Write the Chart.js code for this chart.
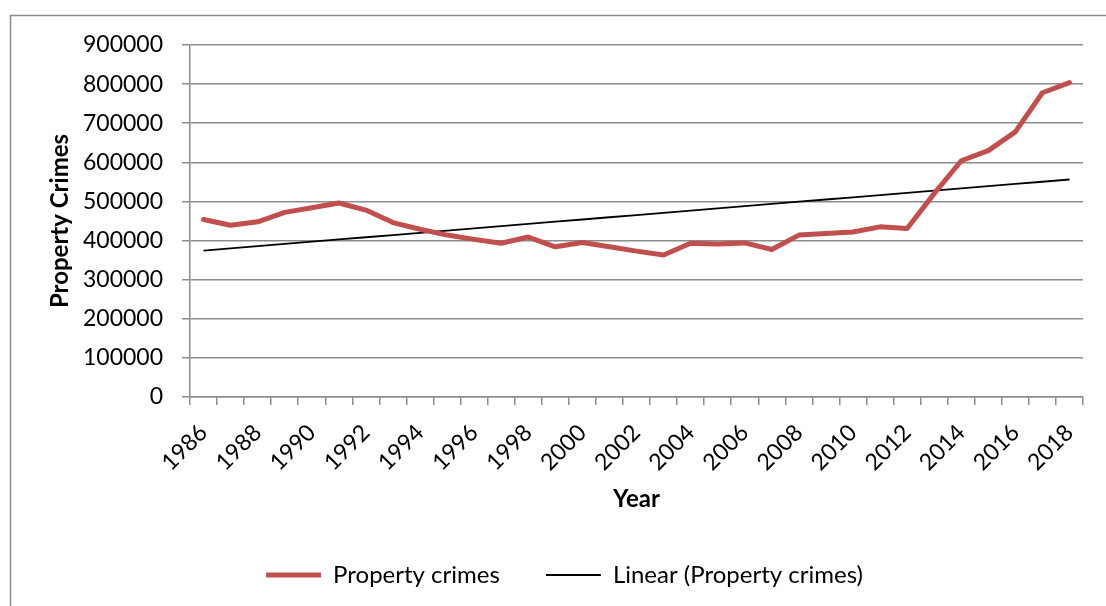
<!DOCTYPE html>
<html>
<head>
<meta charset="utf-8">
<script src="https://cdn.jsdelivr.net/npm/chart.js@4.4.1/dist/chart.umd.min.js"></script>
<style>
  html, body { margin: 0; padding: 0; background: #fff; }
  #wrap { position: relative; width: 1106px; height: 606px; }
</style>
</head>
<body>
<div id="wrap"><canvas id="crimeChart"></canvas></div>
<script>
const years = ['1986', '1987', '1988', '1989', '1990', '1991', '1992', '1993', '1994', '1995', '1996',
    '1997', '1998', '1999', '2000', '2001', '2002', '2003', '2004', '2005', '2006', '2007',
    '2008', '2009', '2010', '2011', '2012', '2013', '2014', '2015', '2016', '2017', '2018'];
const propertyCrimes = [454000, 439000, 448000, 472000, 484000, 496000, 478000, 446000, 429000, 414000, 403000,
    393000, 409000, 384000, 395000, 384000, 373000, 363000, 393000, 391000, 394000, 377000,
    414000, 418000, 422000, 435000, 431000, 520000, 604000, 630000, 678000, 778000, 804000];
const yTicks = [0, 100000, 200000, 300000, 400000, 500000, 600000, 700000, 800000, 900000];

// least-squares trend over the year index, like the spreadsheet "Linear" trendline
function linearTrend(values) {
    const n = values.length;
    const mx = (n - 1) / 2;
    const my = values.reduce((a, b) => a + b, 0) / n;
    let sxy = 0, sxx = 0;
    values.forEach((v, i) => { sxy += (i - mx) * (v - my); sxx += (i - mx) * (i - mx); });
    const slope = sxy / sxx;
    return values.map((v, i) => my + slope * (i - mx));
}

const GREY = '#8c8c8c';
const FONT = 'Lato, "Open Sans", sans-serif';

const framePlugin = {
    id: 'frame',
    beforeDraw(chart) {
        const c = chart.ctx;
        c.save();
        c.strokeStyle = GREY;
        c.lineWidth = 1.5;
        c.strokeRect(10.5, 15.5, 1200, 700);
        c.restore();
    }
};

const padLeft = 46;

new Chart(document.getElementById('crimeChart'), {
    type: 'line',
    data: {
        labels: years,
        datasets: [
            {
                label: 'Property crimes', data: propertyCrimes, borderColor: '#C0504D', backgroundColor: '#C0504D',
                borderWidth: 5, pointRadius: 0, tension: 0, borderCapStyle: 'round', borderJoinStyle: 'round'
            },
            {
                label: 'Linear (Property crimes)', data: linearTrend(propertyCrimes), borderColor: '#000',
                backgroundColor: '#000', borderWidth: 1.8, pointRadius: 0, tension: 0
            }
        ]
    },
    options: {
        responsive: true,
        maintainAspectRatio: false,
        animation: false,
        layout: { padding: { left: padLeft, right: 23, top: 45, bottom: 9 } },
        plugins: {
            tooltip: { enabled: false },
            legend: {
                position: 'bottom',
                labels: {
                    usePointStyle: true,
                    pointStyle: 'line',
                    pointStyleWidth: 55,
                    padding: 46,
                    color: '#000',
                    font: { family: FONT, size: 24 },
                    generateLabels(chart) {
                        return chart.data.datasets.map((ds, i) => ({
                            text: ds.label, fillStyle: ds.borderColor, strokeStyle: ds.borderColor,
                            lineWidth: ds.borderWidth, pointStyle: 'line', hidden: false, datasetIndex: i
                        }));
                    }
                }
            }
        },
        scales: {
            x: {
                offset: true,
                afterFit(scale) { scale.height = 120; },
                grid: { offset: true, drawOnChartArea: false, drawTicks: true, tickLength: 8, color: GREY, lineWidth: 1.5 },
                border: { color: GREY, width: 1.5 },
                ticks: {
                    autoSkip: false, maxRotation: 45, minRotation: 45, padding: 14, color: '#000',
                    font: { family: FONT, size: 23 },
                    callback(value, index) { return index % 2 === 0 ? years[index] : ''; }
                },
                title: {
                    display: true, text: 'Year', color: '#000',
                    font: { family: FONT, size: 24, weight: 'bold', lineHeight: 1 },
                    padding: { top: 0, bottom: 6 }
                }
            },
            y: {
                min: yTicks[0],
                max: yTicks[yTicks.length - 1],
                afterFit(scale) { scale.width = 190 - padLeft; },
                afterBuildTicks(scale) { scale.ticks = yTicks.map(v => ({ value: v })); },
                grid: { color: GREY, lineWidth: 1.5, tickLength: 8 },
                border: { color: GREY, width: 1.5 },
                ticks: {
                    padding: 19, color: '#000',
                    font: { family: FONT, size: 23 },
                    callback(value) { return String(value); }
                },
                title: {
                    display: true, text: 'Property Crimes', color: '#000',
                    font: { family: FONT, size: 24, weight: 'bold', lineHeight: 1 },
                    padding: { top: 2, bottom: 0 }
                }
            }
        }
    },
    plugins: [framePlugin]
});
</script>
</body>
</html>
